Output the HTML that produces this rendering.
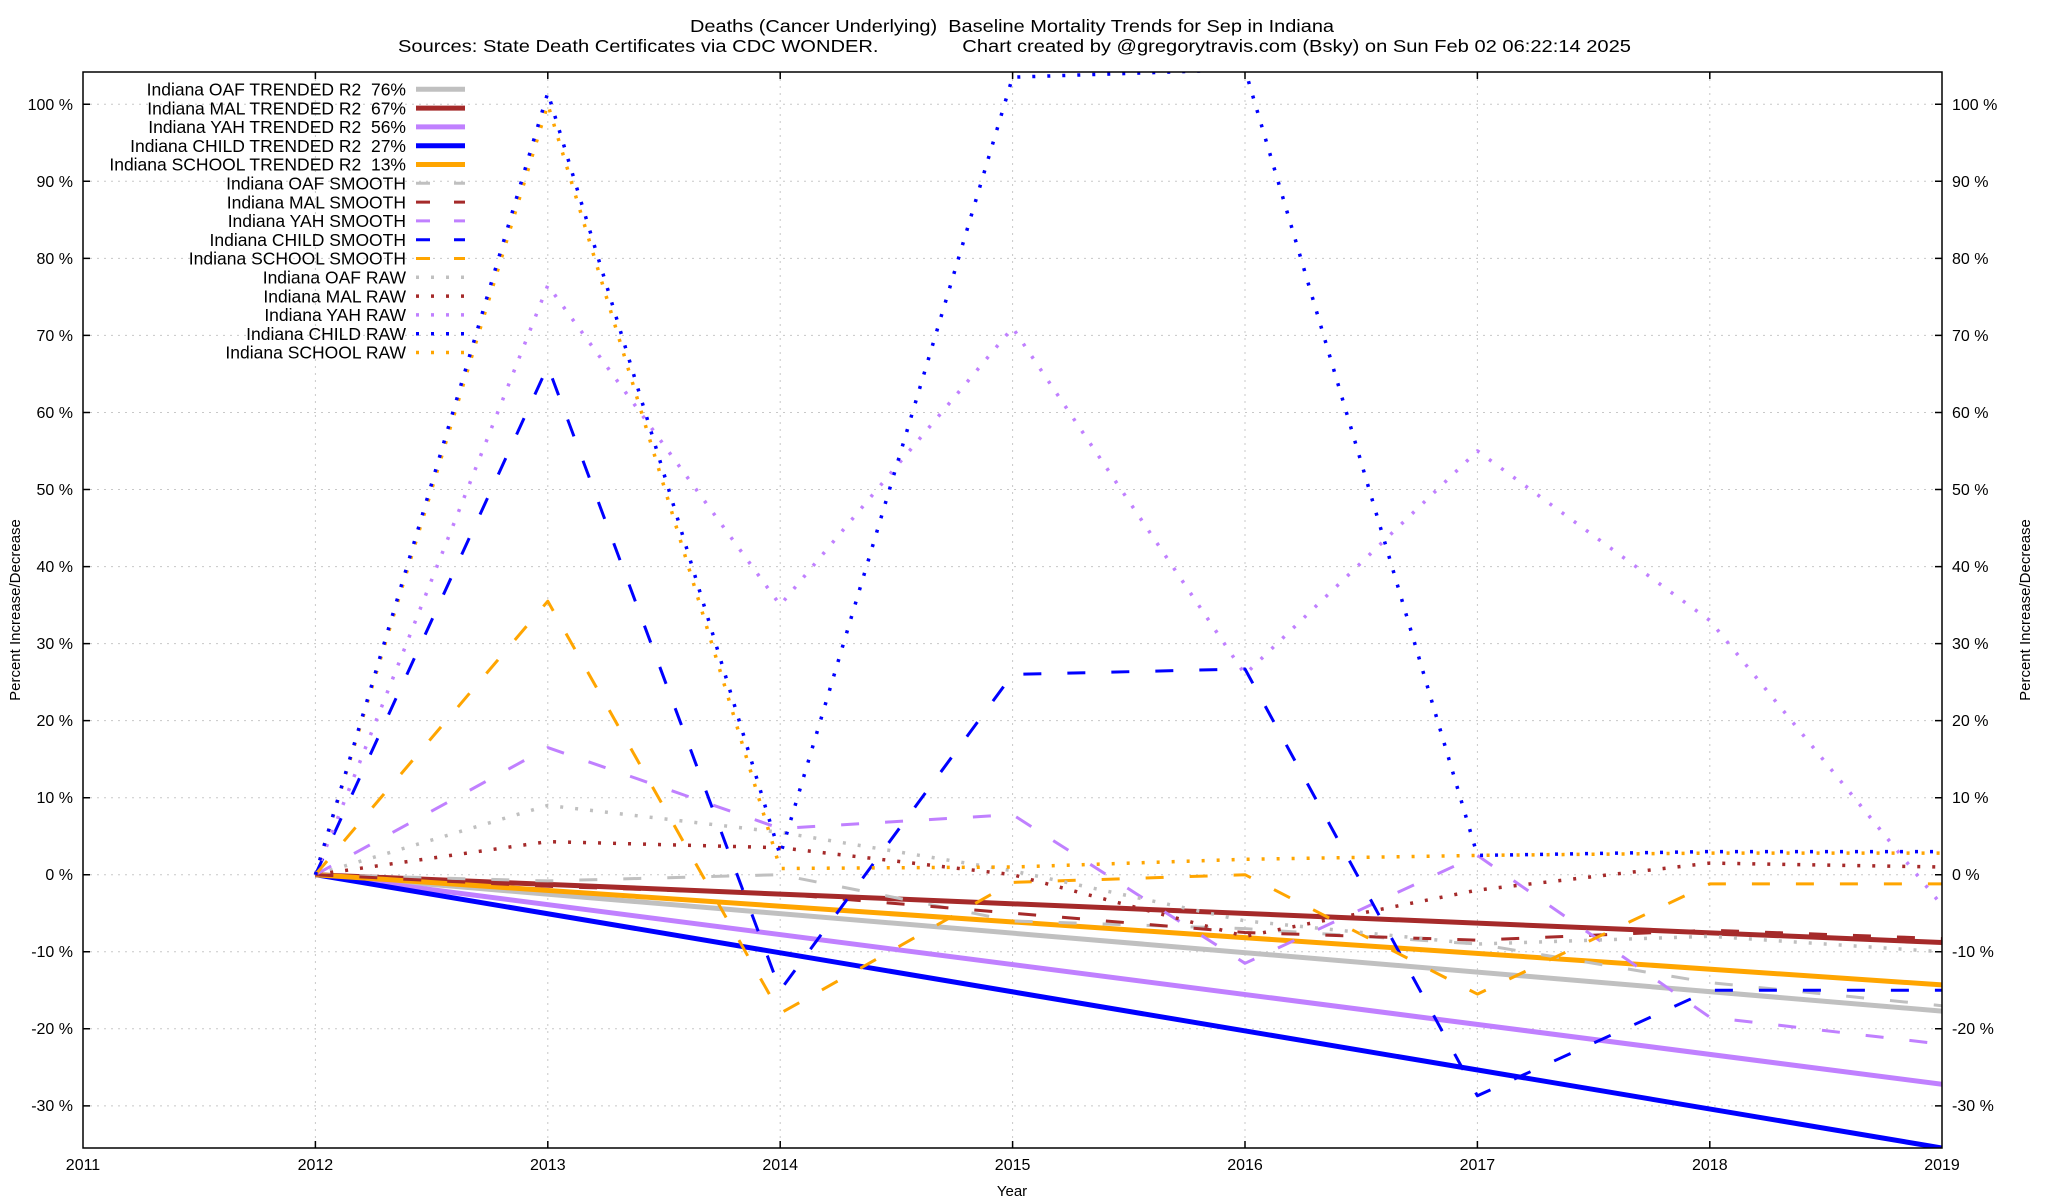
<!DOCTYPE html>
<html><head><meta charset="utf-8"><style>
html,body{margin:0;padding:0;background:#fff;}
svg{display:block;font-family:"Liberation Sans",Arial,sans-serif;}
</style></head><body>
<svg width="2048" height="1200" viewBox="0 0 2048 1200" xmlns="http://www.w3.org/2000/svg">
<defs><clipPath id="c"><rect x="83" y="72" width="1859" height="1076"/></clipPath></defs>
<rect width="2048" height="1200" fill="#fff"/>
<text x="1012" y="32" font-size="17.5" text-anchor="middle" textLength="644" lengthAdjust="spacingAndGlyphs">Deaths (Cancer Underlying)&#160; Baseline Mortality Trends for Sep in Indiana</text>
<text x="398" y="52" font-size="17.5" textLength="1233" lengthAdjust="spacingAndGlyphs">Sources: State Death Certificates via CDC WONDER.&#160;&#160;&#160;&#160;&#160;&#160;&#160;&#160;&#160;&#160;&#160;&#160;&#160;&#160; Chart created by @gregorytravis.com (Bsky) on Sun Feb 02 06:22:14 2025</text>
<g stroke="#c8c8c8" stroke-width="1" stroke-dasharray="2 5">
<line x1="83" x2="1942" y1="104.3" y2="104.3"/><line x1="83" x2="1942" y1="181.3" y2="181.3"/><line x1="83" x2="1942" y1="258.4" y2="258.4"/><line x1="83" x2="1942" y1="335.4" y2="335.4"/><line x1="83" x2="1942" y1="412.5" y2="412.5"/><line x1="83" x2="1942" y1="489.5" y2="489.5"/><line x1="83" x2="1942" y1="566.6" y2="566.6"/><line x1="83" x2="1942" y1="643.6" y2="643.6"/><line x1="83" x2="1942" y1="720.6" y2="720.6"/><line x1="83" x2="1942" y1="797.7" y2="797.7"/><line x1="83" x2="1942" y1="874.7" y2="874.7"/><line x1="83" x2="1942" y1="951.8" y2="951.8"/><line x1="83" x2="1942" y1="1028.8" y2="1028.8"/><line x1="83" x2="1942" y1="1105.9" y2="1105.9"/>
<line x1="315.4" x2="315.4" y1="72" y2="1148"/><line x1="547.8" x2="547.8" y1="72" y2="1148"/><line x1="780.2" x2="780.2" y1="72" y2="1148"/><line x1="1012.6" x2="1012.6" y1="72" y2="1148"/><line x1="1245" x2="1245" y1="72" y2="1148"/><line x1="1477.4" x2="1477.4" y1="72" y2="1148"/><line x1="1709.8" x2="1709.8" y1="72" y2="1148"/>
</g>
<g font-size="16" text-anchor="end">
<text x="73" y="110">100 %</text><text x="73" y="187">90 %</text><text x="73" y="264">80 %</text><text x="73" y="341">70 %</text><text x="73" y="418">60 %</text><text x="73" y="495">50 %</text><text x="73" y="572">40 %</text><text x="73" y="649">30 %</text><text x="73" y="726">20 %</text><text x="73" y="803">10 %</text><text x="73" y="880">0 %</text><text x="73" y="957">-10 %</text><text x="73" y="1034">-20 %</text><text x="73" y="1111">-30 %</text>
</g>
<g font-size="16">
<text x="1952" y="110">100 %</text><text x="1952" y="187">90 %</text><text x="1952" y="264">80 %</text><text x="1952" y="341">70 %</text><text x="1952" y="418">60 %</text><text x="1952" y="495">50 %</text><text x="1952" y="572">40 %</text><text x="1952" y="649">30 %</text><text x="1952" y="726">20 %</text><text x="1952" y="803">10 %</text><text x="1952" y="880">0 %</text><text x="1952" y="957">-10 %</text><text x="1952" y="1034">-20 %</text><text x="1952" y="1111">-30 %</text>
</g>
<g font-size="16" text-anchor="middle">
<text x="83" y="1170">2011</text><text x="315.4" y="1170">2012</text><text x="547.8" y="1170">2013</text><text x="780.2" y="1170">2014</text><text x="1012.6" y="1170">2015</text><text x="1245" y="1170">2016</text><text x="1477.4" y="1170">2017</text><text x="1709.8" y="1170">2018</text><text x="1942" y="1170">2019</text>
<text x="1012" y="1196" font-size="15">Year</text>
<text transform="translate(20,610) rotate(-90)" font-size="15">Percent Increase/Decrease</text>
<text transform="translate(2030,610) rotate(-90)" font-size="15">Percent Increase/Decrease</text>
</g>
<g stroke="#000" stroke-width="1.5">
<path d="M83 1105.9h7M83 1028.8h7M83 951.8h7M83 874.7h7M83 797.7h7M83 720.6h7M83 643.6h7M83 566.6h7M83 489.5h7M83 412.5h7M83 335.4h7M83 258.4h7M83 181.3h7M83 104.3h7"/>
<path d="M1942 1105.9h-7M1942 1028.8h-7M1942 951.8h-7M1942 874.7h-7M1942 797.7h-7M1942 720.6h-7M1942 643.6h-7M1942 566.6h-7M1942 489.5h-7M1942 412.5h-7M1942 335.4h-7M1942 258.4h-7M1942 181.3h-7M1942 104.3h-7"/>
<path d="M315.4 1148v-7M547.8 1148v-7M780.2 1148v-7M1012.6 1148v-7M1245 1148v-7M1477.4 1148v-7M1709.8 1148v-7M315.4 72v7M547.8 72v7M780.2 72v7M1012.6 72v7M1245 72v7M1477.4 72v7M1709.8 72v7"/>
</g>
<g clip-path="url(#c)" fill="none" stroke-linejoin="round">
<polyline stroke="#c0c0c0" stroke-width="5" points="315.4,874.7 1942,1011.1"/>
<polyline stroke="#a52a2a" stroke-width="5" points="315.4,874.7 1942,942.5"/>
<polyline stroke="#c080ff" stroke-width="5" points="315.4,874.7 1942,1084.3"/>
<polyline stroke="#0000ff" stroke-width="5" points="315.4,874.7 1942,1148"/>
<polyline stroke="#ffa500" stroke-width="5" points="315.4,874.7 1942,984.9"/>
<g stroke-width="3" stroke-dasharray="18 26">
<polyline stroke="#c0c0c0" points="315.4,874.7 547.8,880.9 780.2,874.7 1012.6,921 1245,928.6 1477.4,944 1709.8,982.6 1942,1005.7"/>
<polyline stroke="#a52a2a" points="315.4,874.7 547.8,886.3 780.2,894 1012.6,913.2 1245,932.5 1477.4,940.2 1709.8,930.2 1942,938.6"/>
<polyline stroke="#c080ff" points="315.4,874.7 547.8,747.6 780.2,828.5 1012.6,814.6 1245,963.3 1477.4,855.4 1709.8,1017.2 1942,1044.2"/>
<polyline stroke="#0000ff" points="315.4,874.7 547.8,366.2 780.2,990.3 1012.6,674.4 1245,669 1477.4,1095.8 1709.8,990.3 1942,990.3"/>
<polyline stroke="#ffa500" points="315.4,874.7 547.8,601.2 780.2,1013.4 1012.6,882.4 1245,874.7 1477.4,994.1 1709.8,883.9 1942,883.9"/>
</g>
<g stroke-width="3.5" stroke-dasharray="3 12" stroke-linecap="butt">
<polyline stroke="#c0c0c0" points="315.4,874.7 547.8,805.4 780.2,832.3 1012.6,870.8 1245,920.9 1477.4,944 1709.8,936.3 1942,951.8"/>
<polyline stroke="#a52a2a" points="315.4,874.7 547.8,841.6 780.2,847.7 1012.6,874.7 1245,936.3 1477.4,890.1 1709.8,863.1 1942,867"/>
<polyline stroke="#c080ff" points="315.4,874.7 547.8,285.3 780.2,605.1 1012.6,327.7 1245,674.4 1477.4,450.9 1709.8,620.5 1942,905.5"/>
<polyline stroke="#ffa500" points="315.4,874.7 547.8,104.3 780.2,868.5 1012.6,867 1245,859.3 1477.4,855.4 1709.8,853.1 1942,853.1"/>
<polyline stroke="#0000ff" points="315.4,874.7 547.8,92.7 780.2,855.4 1012.6,77.2 1245,69.5 1477.4,855.4 1709.8,851.6 1942,851.6"/>
</g>
</g>
<rect x="83" y="72" width="1859" height="1076" fill="none" stroke="#000" stroke-width="1.5"/>
<g font-size="17.5" text-anchor="end">
<text x="406" y="95.5">Indiana OAF TRENDED R2&#160; 76%</text>
<text x="406" y="114.3">Indiana MAL TRENDED R2&#160; 67%</text>
<text x="406" y="133.1">Indiana YAH TRENDED R2&#160; 56%</text>
<text x="406" y="151.9">Indiana CHILD TRENDED R2&#160; 27%</text>
<text x="406" y="170.7">Indiana SCHOOL TRENDED R2&#160; 13%</text>
<text x="406" y="189.5">Indiana OAF SMOOTH</text>
<text x="406" y="208.3">Indiana MAL SMOOTH</text>
<text x="406" y="227.1">Indiana YAH SMOOTH</text>
<text x="406" y="245.9">Indiana CHILD SMOOTH</text>
<text x="406" y="264.7">Indiana SCHOOL SMOOTH</text>
<text x="406" y="283.5">Indiana OAF RAW</text>
<text x="406" y="302.3">Indiana MAL RAW</text>
<text x="406" y="321.1">Indiana YAH RAW</text>
<text x="406" y="339.9">Indiana CHILD RAW</text>
<text x="406" y="358.7">Indiana SCHOOL RAW</text>
</g>
<g fill="none">
<line x1="416" x2="465" y1="89.3" y2="89.3" stroke="#c0c0c0" stroke-width="5"/>
<line x1="416" x2="465" y1="108.1" y2="108.1" stroke="#a52a2a" stroke-width="5"/>
<line x1="416" x2="465" y1="126.9" y2="126.9" stroke="#c080ff" stroke-width="5"/>
<line x1="416" x2="465" y1="145.7" y2="145.7" stroke="#0000ff" stroke-width="5"/>
<line x1="416" x2="465" y1="164.5" y2="164.5" stroke="#ffa500" stroke-width="5"/>
<g stroke-width="3" stroke-dasharray="14 24">
<line x1="416" x2="465" y1="183.3" y2="183.3" stroke="#c0c0c0"/>
<line x1="416" x2="465" y1="202.1" y2="202.1" stroke="#a52a2a"/>
<line x1="416" x2="465" y1="220.9" y2="220.9" stroke="#c080ff"/>
<line x1="416" x2="465" y1="239.7" y2="239.7" stroke="#0000ff"/>
<line x1="416" x2="465" y1="258.5" y2="258.5" stroke="#ffa500"/>
</g>
<g stroke-width="3.5" stroke-dasharray="3 12">
<line x1="416" x2="465" y1="277.3" y2="277.3" stroke="#c0c0c0"/>
<line x1="416" x2="465" y1="296.1" y2="296.1" stroke="#a52a2a"/>
<line x1="416" x2="465" y1="314.9" y2="314.9" stroke="#c080ff"/>
<line x1="416" x2="465" y1="333.7" y2="333.7" stroke="#0000ff"/>
<line x1="416" x2="465" y1="352.5" y2="352.5" stroke="#ffa500"/>
</g>
</g>
</svg>
</body></html>
